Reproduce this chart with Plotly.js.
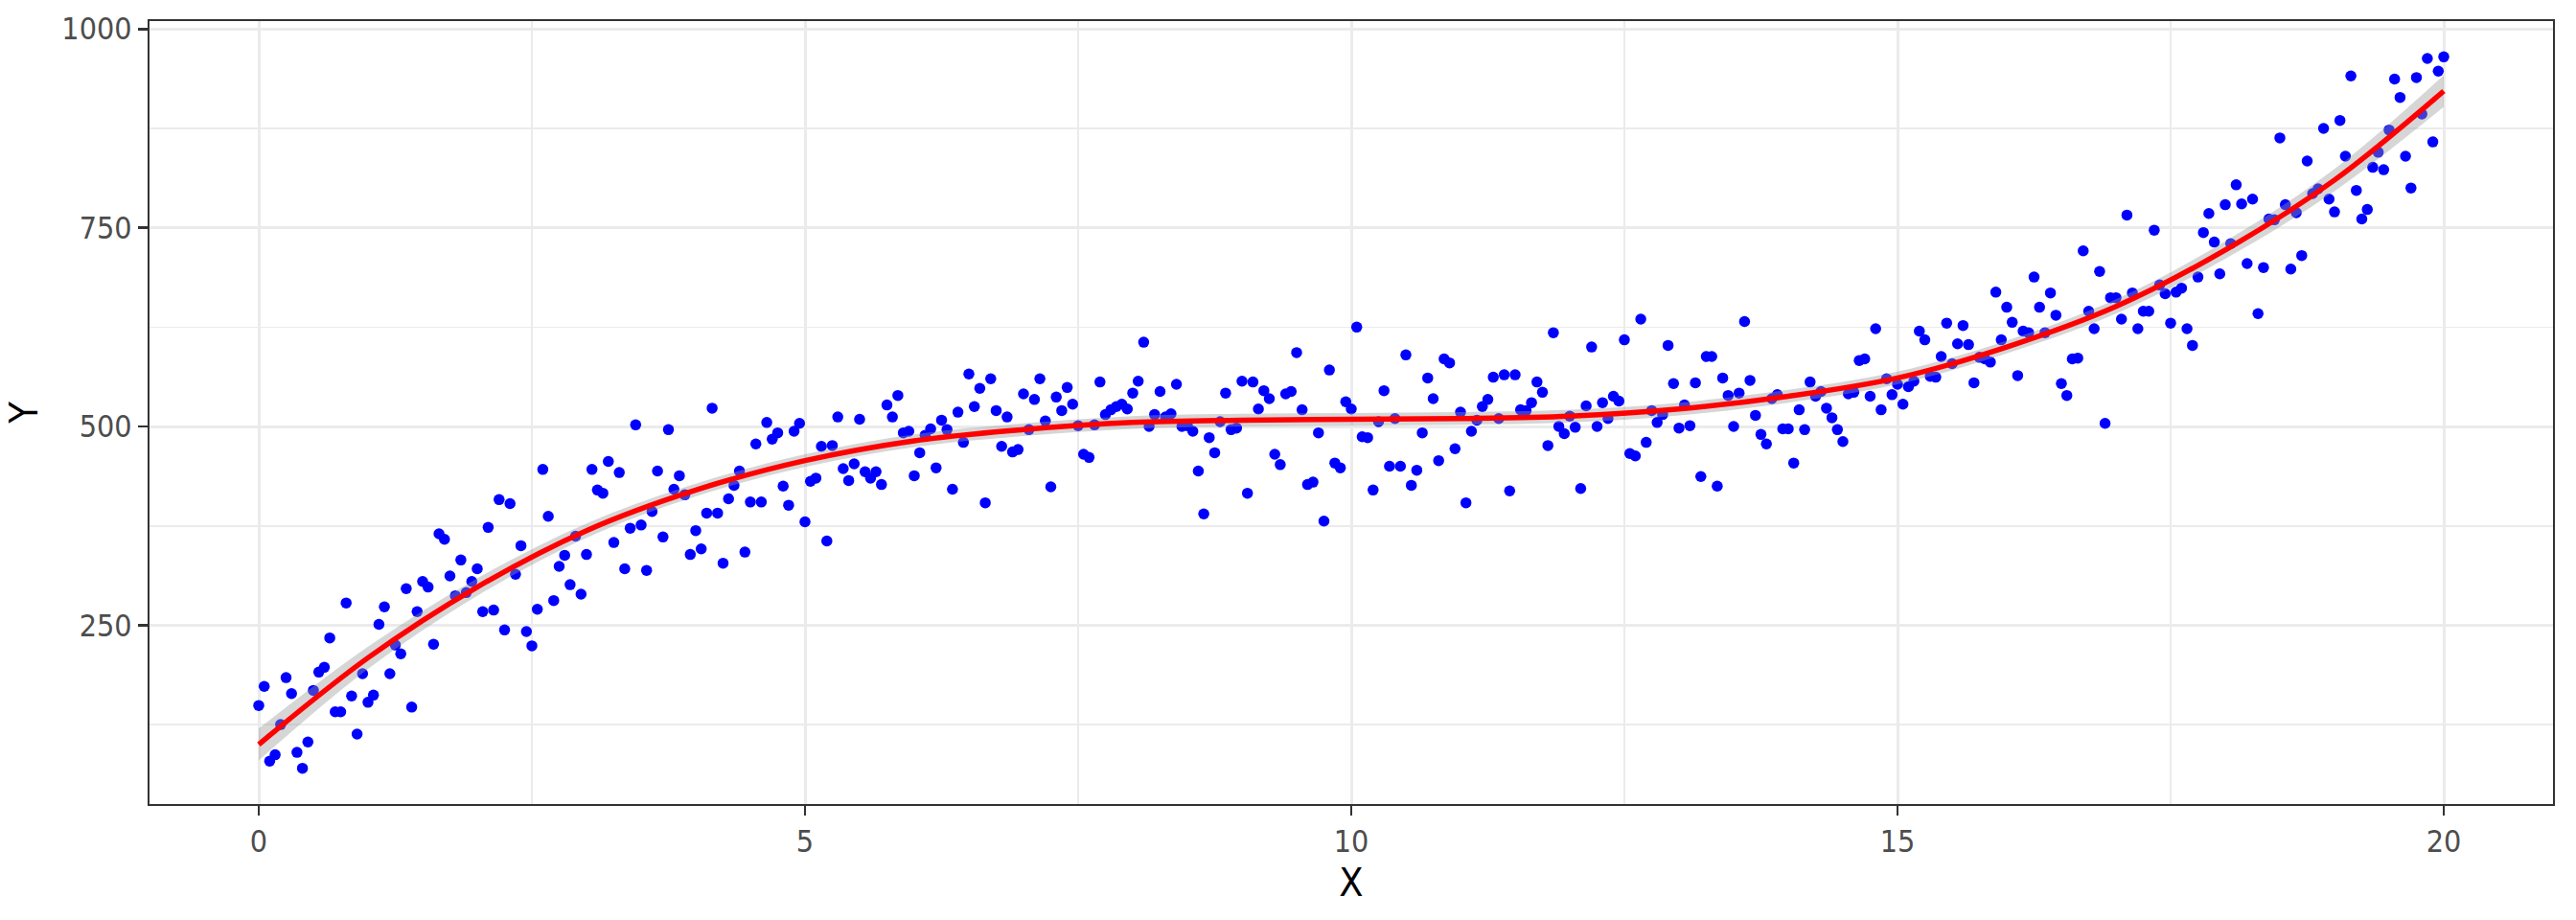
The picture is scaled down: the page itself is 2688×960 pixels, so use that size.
<!DOCTYPE html>
<html>
<head>
<meta charset="utf-8">
<script src="https://cdn.plot.ly/plotly-3.0.1.min.js"></script>
<style>
html,body{margin:0;padding:0;background:#fff;}
#chart{width:2688px;height:960px;}
</style>
</head>
<body>
<div id="chart"></div>
<script>
const xVals = [
0,0.05,0.1,0.15,0.2,0.25,0.3,0.35,0.4,0.45,0.5,0.55,0.6,0.65,0.7,0.75,0.8,0.85,0.9,0.95,
1,1.05,1.1,1.15,1.2,1.25,1.3,1.35,1.4,1.45,1.5,1.55,1.6,1.65,1.7,1.75,1.8,1.85,1.9,1.95,
2,2.05,2.1,2.15,2.2,2.25,2.3,2.35,2.4,2.45,2.5,2.55,2.6,2.65,2.7,2.75,2.8,2.85,2.9,2.95,
3,3.05,3.1,3.15,3.2,3.25,3.3,3.35,3.4,3.45,3.5,3.55,3.6,3.65,3.7,3.75,3.8,3.85,3.9,3.95,
4,4.05,4.1,4.15,4.2,4.25,4.3,4.35,4.4,4.45,4.5,4.55,4.6,4.65,4.7,4.75,4.8,4.85,4.9,4.95,
5,5.05,5.1,5.15,5.2,5.25,5.3,5.35,5.4,5.45,5.5,5.55,5.6,5.65,5.7,5.75,5.8,5.85,5.9,5.95,
6,6.05,6.1,6.15,6.2,6.25,6.3,6.35,6.4,6.45,6.5,6.55,6.6,6.65,6.7,6.75,6.8,6.85,6.9,6.95,
7,7.05,7.1,7.15,7.2,7.25,7.3,7.35,7.4,7.45,7.5,7.55,7.6,7.65,7.7,7.75,7.8,7.85,7.9,7.95,
8,8.05,8.1,8.15,8.2,8.25,8.3,8.35,8.4,8.45,8.5,8.55,8.6,8.65,8.7,8.75,8.8,8.85,8.9,8.95,
9,9.05,9.1,9.15,9.2,9.25,9.3,9.35,9.4,9.45,9.5,9.55,9.6,9.65,9.7,9.75,9.8,9.85,9.9,9.95,
10,10.05,10.1,10.15,10.2,10.25,10.3,10.35,10.4,10.45,10.5,10.55,10.6,10.65,10.7,10.75,10.8,10.85,10.9,10.95,
11,11.05,11.1,11.15,11.2,11.25,11.3,11.35,11.4,11.45,11.5,11.55,11.6,11.65,11.7,11.75,11.8,11.85,11.9,11.95,
12,12.05,12.1,12.15,12.2,12.25,12.3,12.35,12.4,12.45,12.5,12.55,12.6,12.65,12.7,12.75,12.8,12.85,12.9,12.95,
13,13.05,13.1,13.15,13.2,13.25,13.3,13.35,13.4,13.45,13.5,13.55,13.6,13.65,13.7,13.75,13.8,13.85,13.9,13.95,
14,14.05,14.1,14.15,14.2,14.25,14.3,14.35,14.4,14.45,14.5,14.55,14.6,14.65,14.7,14.75,14.8,14.85,14.9,14.95,
15,15.05,15.1,15.15,15.2,15.25,15.3,15.35,15.4,15.45,15.5,15.55,15.6,15.65,15.7,15.75,15.8,15.85,15.9,15.95,
16,16.05,16.1,16.15,16.2,16.25,16.3,16.35,16.4,16.45,16.5,16.55,16.6,16.65,16.7,16.75,16.8,16.85,16.9,16.95,
17,17.05,17.1,17.15,17.2,17.25,17.3,17.35,17.4,17.45,17.5,17.55,17.6,17.65,17.7,17.75,17.8,17.85,17.9,17.95,
18,18.05,18.1,18.15,18.2,18.25,18.3,18.35,18.4,18.45,18.5,18.55,18.6,18.65,18.7,18.75,18.8,18.85,18.9,18.95,
19,19.05,19.1,19.15,19.2,19.25,19.3,19.35,19.4,19.45,19.5,19.55,19.6,19.65,19.7,19.75,19.8,19.85,19.9,19.95,
20
];

const yVals = [
149,173,79,87,125,184,164,90,70,103,
168,191,197,234,141,141,278,161,113,189,
153,162,251,273,189,225,214,296,147,267,
305,298,226,365,358,312,287,332,291,305,
321,267,373,269,408,244,403,314,350,242,
224,270,446,387,281,324,338,301,362,289,
339,446,420,416,456,354,442,321,372,502,
376,319,393,444,361,496,421,438,414,339,
369,346,391,523,391,328,409,426,444,342,
405,478,405,505,484,492,425,401,494,504,
380,431,435,475,356,476,512,447,432,453,
509,443,435,443,427,527,512,539,492,494,
438,467,489,497,448,508,496,421,518,480,
566,525,548,404,560,520,475,512,468,471,
541,496,534,560,507,424,537,520,549,528,
501,465,461,502,556,515,521,525,528,522,
542,557,606,500,515,544,512,516,553,500,
501,494,444,390,486,467,506,542,496,498,
557,416,556,522,545,535,465,452,541,544,
593,521,427,430,492,381,571,454,448,531,
522,625,487,486,420,506,545,450,510,450,
590,426,445,492,561,535,457,585,580,472,
518,404,494,508,525,534,562,510,565,419,
565,521,520,530,556,543,476,618,500,491,
513,499,422,526,600,500,530,510,538,532,
609,466,463,635,480,520,505,515,602,554,
498,527,501,555,437,588,588,425,561,539,
500,542,632,558,514,490,478,535,540,497,
497,454,521,496,556,538,544,523,511,496,
481,541,543,583,585,538,623,521,560,540,
553,528,550,557,620,609,563,562,588,630,
579,604,627,603,555,587,585,581,669,609,
650,631,564,620,618,688,650,618,668,640,
554,539,585,586,721,645,623,695,504,662,
662,635,766,668,623,645,645,747,678,667,
630,669,674,623,602,688,744,768,732,692,
779,730,804,780,705,786,642,700,761,760,
863,779,698,769,715,834,793,799,875,786,
770,885,840,941,797,761,773,826,845,823,
873,937,914,840,800,939,893,963,858,947,
965
];

// fitted smooth and its confidence band
const fitX = [0,1,2,3,4,5,6,7,8,9,10,11,12,13,14,15,16,17,18,19,20];
const fitY = [100,209,298,369,420,457,482,496,505,508,509,510,513,522,538,561,600,651,722,810,922];
const fitLow = [80,195,287,360,412,449,474,488,497,500,501,502,505,514,530,553,592,642,711,796,902];
const fitHigh = [120,223,309,378,428,465,490,504,513,516,517,518,521,530,546,569,608,660,733,824,942];

const xTicks = [0,5,10,15,20];
const xTickText = ['0','5','10','15','20'];
const yTicks = [250,500,750,1000];
const yTickText = ['250','500','750','1000'];

const FONT = '"Liberation Sans Narrow", "Arial Narrow", "DejaVu Sans Condensed", sans-serif';

const traces = [
  {
    x: xVals, y: yVals, type: 'scatter', mode: 'markers',
    marker: {color: '#0000FF', size: 11.5, line: {width: 0}},
    hoverinfo: 'skip', showlegend: false
  },
  {
    x: fitX, y: fitLow, type: 'scatter', mode: 'lines',
    line: {width: 0, shape: 'spline', color: 'rgba(0,0,0,0)'},
    hoverinfo: 'skip', showlegend: false
  },
  {
    x: fitX, y: fitHigh, type: 'scatter', mode: 'lines',
    fill: 'tonexty', fillcolor: 'rgba(153,153,153,0.4)',
    line: {width: 0, shape: 'spline', color: 'rgba(0,0,0,0)'},
    hoverinfo: 'skip', showlegend: false
  },
  {
    x: fitX, y: fitY, type: 'scatter', mode: 'lines',
    line: {color: '#FF0000', width: 5.5, shape: 'spline'},
    hoverinfo: 'skip', showlegend: false
  }
];

const layout = {
  width: 2688, height: 960,
  margin: {l: 156, r: 24, t: 22, b: 121},
  paper_bgcolor: '#FFFFFF', plot_bgcolor: '#FFFFFF',
  font: {family: FONT, size: 32, color: '#4D4D4D'},
  showlegend: false,
  xaxis: {
    range: [-1, 21],
    tickmode: 'array', tickvals: xTicks, ticktext: xTickText,
    ticks: 'outside', ticklen: 10, tickwidth: 2.5, tickcolor: '#333333',
    tickfont: {family: FONT, size: 32, color: '#4D4D4D'},
    showgrid: true, gridcolor: '#EBEBEB', gridwidth: 3,
    minor: {dtick: 2.5, tick0: 0, showgrid: true, gridcolor: '#EBEBEB', gridwidth: 1.6, ticks: ''},
    showline: true, linecolor: '#333333', linewidth: 2, mirror: true,
    zeroline: false,
    title: {text: 'X', font: {family: FONT, size: 41, color: '#000000'}, standoff: 9}
  },
  yaxis: {
    range: [25, 1010],
    tickmode: 'array', tickvals: yTicks, ticktext: yTickText,
    ticks: 'outside', ticklen: 10, tickwidth: 2.5, tickcolor: '#333333',
    tickfont: {family: FONT, size: 32, color: '#4D4D4D'},
    showgrid: true, gridcolor: '#EBEBEB', gridwidth: 3,
    minor: {dtick: 125, tick0: 0, showgrid: true, gridcolor: '#EBEBEB', gridwidth: 1.6, ticks: ''},
    showline: true, linecolor: '#333333', linewidth: 2, mirror: true,
    zeroline: false,
    title: {text: 'Y', font: {family: FONT, size: 41, color: '#000000'}, standoff: 12}
  }
};

Plotly.newPlot('chart', traces, layout, {displayModeBar: false, staticPlot: true});
</script>
</body>
</html>
